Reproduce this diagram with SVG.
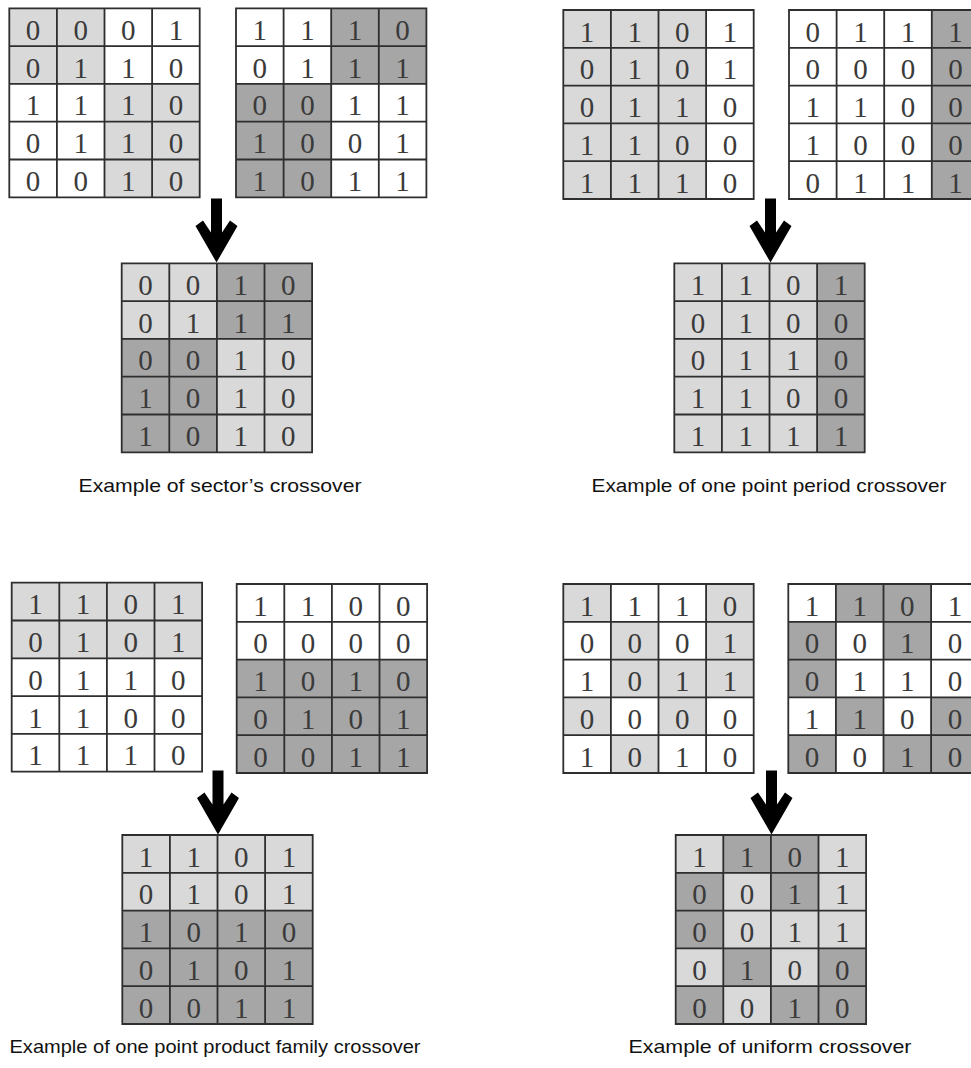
<svg xmlns="http://www.w3.org/2000/svg" xmlns:xlink="http://www.w3.org/1999/xlink" width="971" height="1068" viewBox="0 0 971 1068">
<style>
.bg{fill:#ffffff}
.L{fill:#d9d9d9}
.D{fill:#a6a6a6}
.gl{fill:none;stroke:#2e2e2e;stroke-width:1.8}
.dg{font-family:"Liberation Serif","DejaVu Serif",serif;font-size:29px;fill:#3a3a3a;text-anchor:middle}
.cap{font-family:"Liberation Sans",Arial,sans-serif;font-size:18.5px;fill:#111111;text-anchor:middle}
.arrow{fill:#000000}
</style>
<defs>
<path id="grid" class="gl" d="M0 0H190.4V189H0Z M47.6 0V189 M95.2 0V189 M142.8 0V189 M0 37.8H190.4 M0 75.6H190.4 M0 113.4H190.4 M0 151.2H190.4"/>
<path id="arr" d="M-5.5 0H5.5V34L13.5 22L21 27.5L0 64L-21 27.5L-13.5 22L-5.5 34Z"/>
</defs>

<!-- Top-left: sector's crossover -->
<g id="tl-parent1" transform="translate(9.3,8.3)">
<rect class="bg" width="190.4" height="189"/>
<rect class="L" x="0" y="0" width="95.2" height="75.6"/>
<rect class="L" x="95.2" y="75.6" width="95.2" height="113.4"/>
<g class="dg">
<text x="23.8 71.4 119 166.6" y="31.5">0001</text>
<text x="23.8 71.4 119 166.6" y="69.3">0110</text>
<text x="23.8 71.4 119 166.6" y="107.1">1110</text>
<text x="23.8 71.4 119 166.6" y="144.9">0110</text>
<text x="23.8 71.4 119 166.6" y="182.7">0010</text>
</g>
<use xlink:href="#grid"/>
</g>
<g id="tl-parent2" transform="translate(236,8.3)">
<rect class="bg" width="190.4" height="189"/>
<rect class="D" x="95.2" y="0" width="95.2" height="75.6"/>
<rect class="D" x="0" y="75.6" width="95.2" height="113.4"/>
<g class="dg">
<text x="23.8 71.4 119 166.6" y="31.5">1110</text>
<text x="23.8 71.4 119 166.6" y="69.3">0111</text>
<text x="23.8 71.4 119 166.6" y="107.1">0011</text>
<text x="23.8 71.4 119 166.6" y="144.9">1001</text>
<text x="23.8 71.4 119 166.6" y="182.7">1011</text>
</g>
<use xlink:href="#grid"/>
</g>
<g id="tl-child" transform="translate(121.7,263.3)">
<rect class="bg" width="190.4" height="189"/>
<rect class="L" x="0" y="0" width="95.2" height="75.6"/>
<rect class="D" x="95.2" y="0" width="95.2" height="75.6"/>
<rect class="D" x="0" y="75.6" width="95.2" height="113.4"/>
<rect class="L" x="95.2" y="75.6" width="95.2" height="113.4"/>
<g class="dg">
<text x="23.8 71.4 119 166.6" y="31.5">0010</text>
<text x="23.8 71.4 119 166.6" y="69.3">0111</text>
<text x="23.8 71.4 119 166.6" y="107.1">0010</text>
<text x="23.8 71.4 119 166.6" y="144.9">1010</text>
<text x="23.8 71.4 119 166.6" y="182.7">1010</text>
</g>
<use xlink:href="#grid"/>
</g>
<text id="tl-caption" class="cap" x="220" y="492" textLength="283" lengthAdjust="spacingAndGlyphs">Example of sector’s crossover</text>

<!-- Top-right: one point period crossover -->
<g id="tr-parent1" transform="translate(563.3,10)">
<rect class="bg" width="190.4" height="189"/>
<rect class="L" x="0" y="0" width="142.8" height="189"/>
<g class="dg">
<text x="23.8 71.4 119 166.6" y="31.5">1101</text>
<text x="23.8 71.4 119 166.6" y="69.3">0101</text>
<text x="23.8 71.4 119 166.6" y="107.1">0110</text>
<text x="23.8 71.4 119 166.6" y="144.9">1100</text>
<text x="23.8 71.4 119 166.6" y="182.7">1110</text>
</g>
<use xlink:href="#grid"/>
</g>
<g id="tr-parent2" transform="translate(789,10)">
<rect class="bg" width="190.4" height="189"/>
<rect class="D" x="142.8" y="0" width="47.6" height="189"/>
<g class="dg">
<text x="23.8 71.4 119 166.6" y="31.5">0111</text>
<text x="23.8 71.4 119 166.6" y="69.3">0000</text>
<text x="23.8 71.4 119 166.6" y="107.1">1100</text>
<text x="23.8 71.4 119 166.6" y="144.9">1000</text>
<text x="23.8 71.4 119 166.6" y="182.7">0111</text>
</g>
<use xlink:href="#grid"/>
</g>
<g id="tr-child" transform="translate(674.3,263.3)">
<rect class="L" x="0" y="0" width="142.8" height="189"/>
<rect class="D" x="142.8" y="0" width="47.6" height="189"/>
<g class="dg">
<text x="23.8 71.4 119 166.6" y="31.5">1101</text>
<text x="23.8 71.4 119 166.6" y="69.3">0100</text>
<text x="23.8 71.4 119 166.6" y="107.1">0110</text>
<text x="23.8 71.4 119 166.6" y="144.9">1100</text>
<text x="23.8 71.4 119 166.6" y="182.7">1111</text>
</g>
<use xlink:href="#grid"/>
</g>
<text id="tr-caption" class="cap" x="769" y="492" textLength="355" lengthAdjust="spacingAndGlyphs">Example of one point period crossover</text>

<!-- Bottom-left: one point product family crossover -->
<g id="bl-parent1" transform="translate(11.7,582.7)">
<rect class="bg" width="190.4" height="189"/>
<rect class="L" x="0" y="0" width="190.4" height="75.6"/>
<g class="dg">
<text x="23.8 71.4 119 166.6" y="31.5">1101</text>
<text x="23.8 71.4 119 166.6" y="69.3">0101</text>
<text x="23.8 71.4 119 166.6" y="107.1">0110</text>
<text x="23.8 71.4 119 166.6" y="144.9">1100</text>
<text x="23.8 71.4 119 166.6" y="182.7">1110</text>
</g>
<use xlink:href="#grid"/>
</g>
<g id="bl-parent2" transform="translate(236.7,584)">
<rect class="bg" width="190.4" height="189"/>
<rect class="D" x="0" y="75.6" width="190.4" height="113.4"/>
<g class="dg">
<text x="23.8 71.4 119 166.6" y="31.5">1100</text>
<text x="23.8 71.4 119 166.6" y="69.3">0000</text>
<text x="23.8 71.4 119 166.6" y="107.1">1010</text>
<text x="23.8 71.4 119 166.6" y="144.9">0101</text>
<text x="23.8 71.4 119 166.6" y="182.7">0011</text>
</g>
<use xlink:href="#grid"/>
</g>
<g id="bl-child" transform="translate(122.3,835)">
<rect class="L" x="0" y="0" width="190.4" height="75.6"/>
<rect class="D" x="0" y="75.6" width="190.4" height="113.4"/>
<g class="dg">
<text x="23.8 71.4 119 166.6" y="31.5">1101</text>
<text x="23.8 71.4 119 166.6" y="69.3">0101</text>
<text x="23.8 71.4 119 166.6" y="107.1">1010</text>
<text x="23.8 71.4 119 166.6" y="144.9">0101</text>
<text x="23.8 71.4 119 166.6" y="182.7">0011</text>
</g>
<use xlink:href="#grid"/>
</g>
<text id="bl-caption" class="cap" x="215" y="1053" textLength="411" lengthAdjust="spacingAndGlyphs">Example of one point product family crossover</text>

<!-- Bottom-right: uniform crossover -->
<g id="br-parent1" transform="translate(563.3,584)">
<rect class="bg" width="190.4" height="189"/>
<rect class="L" x="0" y="0" width="47.6" height="37.8"/>
<rect class="L" x="142.8" y="0" width="47.6" height="37.8"/>
<rect class="L" x="47.6" y="37.8" width="47.6" height="37.8"/>
<rect class="L" x="142.8" y="37.8" width="47.6" height="37.8"/>
<rect class="L" x="47.6" y="75.6" width="142.8" height="37.8"/>
<rect class="L" x="0" y="113.4" width="47.6" height="37.8"/>
<rect class="L" x="95.2" y="113.4" width="47.6" height="37.8"/>
<rect class="L" x="47.6" y="151.2" width="47.6" height="37.8"/>
<g class="dg">
<text x="23.8 71.4 119 166.6" y="31.5">1110</text>
<text x="23.8 71.4 119 166.6" y="69.3">0001</text>
<text x="23.8 71.4 119 166.6" y="107.1">1011</text>
<text x="23.8 71.4 119 166.6" y="144.9">0000</text>
<text x="23.8 71.4 119 166.6" y="182.7">1010</text>
</g>
<use xlink:href="#grid"/>
</g>
<g id="br-parent2" transform="translate(788.3,584)">
<rect class="bg" width="190.4" height="189"/>
<rect class="D" x="47.6" y="0" width="95.2" height="37.8"/>
<rect class="D" x="0" y="37.8" width="47.6" height="37.8"/>
<rect class="D" x="95.2" y="37.8" width="47.6" height="37.8"/>
<rect class="D" x="0" y="75.6" width="47.6" height="37.8"/>
<rect class="D" x="47.6" y="113.4" width="47.6" height="37.8"/>
<rect class="D" x="142.8" y="113.4" width="47.6" height="37.8"/>
<rect class="D" x="0" y="151.2" width="47.6" height="37.8"/>
<rect class="D" x="95.2" y="151.2" width="95.2" height="37.8"/>
<g class="dg">
<text x="23.8 71.4 119 166.6" y="31.5">1101</text>
<text x="23.8 71.4 119 166.6" y="69.3">0010</text>
<text x="23.8 71.4 119 166.6" y="107.1">0110</text>
<text x="23.8 71.4 119 166.6" y="144.9">1100</text>
<text x="23.8 71.4 119 166.6" y="182.7">0010</text>
</g>
<use xlink:href="#grid"/>
</g>
<g id="br-child" transform="translate(675.7,835)">
<rect class="L" width="190.4" height="189"/>
<rect class="D" x="47.6" y="0" width="95.2" height="37.8"/>
<rect class="D" x="0" y="37.8" width="47.6" height="37.8"/>
<rect class="D" x="95.2" y="37.8" width="47.6" height="37.8"/>
<rect class="D" x="0" y="75.6" width="47.6" height="37.8"/>
<rect class="D" x="47.6" y="113.4" width="47.6" height="37.8"/>
<rect class="D" x="142.8" y="113.4" width="47.6" height="37.8"/>
<rect class="D" x="0" y="151.2" width="47.6" height="37.8"/>
<rect class="D" x="95.2" y="151.2" width="95.2" height="37.8"/>
<g class="dg">
<text x="23.8 71.4 119 166.6" y="31.5">1101</text>
<text x="23.8 71.4 119 166.6" y="69.3">0011</text>
<text x="23.8 71.4 119 166.6" y="107.1">0011</text>
<text x="23.8 71.4 119 166.6" y="144.9">0100</text>
<text x="23.8 71.4 119 166.6" y="182.7">0010</text>
</g>
<use xlink:href="#grid"/>
</g>
<text id="br-caption" class="cap" x="770" y="1053" textLength="283" lengthAdjust="spacingAndGlyphs">Example of uniform crossover</text>

<!-- Connectors: crossover arrows -->
<g id="connectors">
<use class="arrow" xlink:href="#arr" transform="translate(216.5,198.5)"/>
<use class="arrow" xlink:href="#arr" transform="translate(770.5,198.5)"/>
<use class="arrow" xlink:href="#arr" transform="translate(218,770.5)"/>
<use class="arrow" xlink:href="#arr" transform="translate(771.5,770.5)"/>
</g>
</svg>
